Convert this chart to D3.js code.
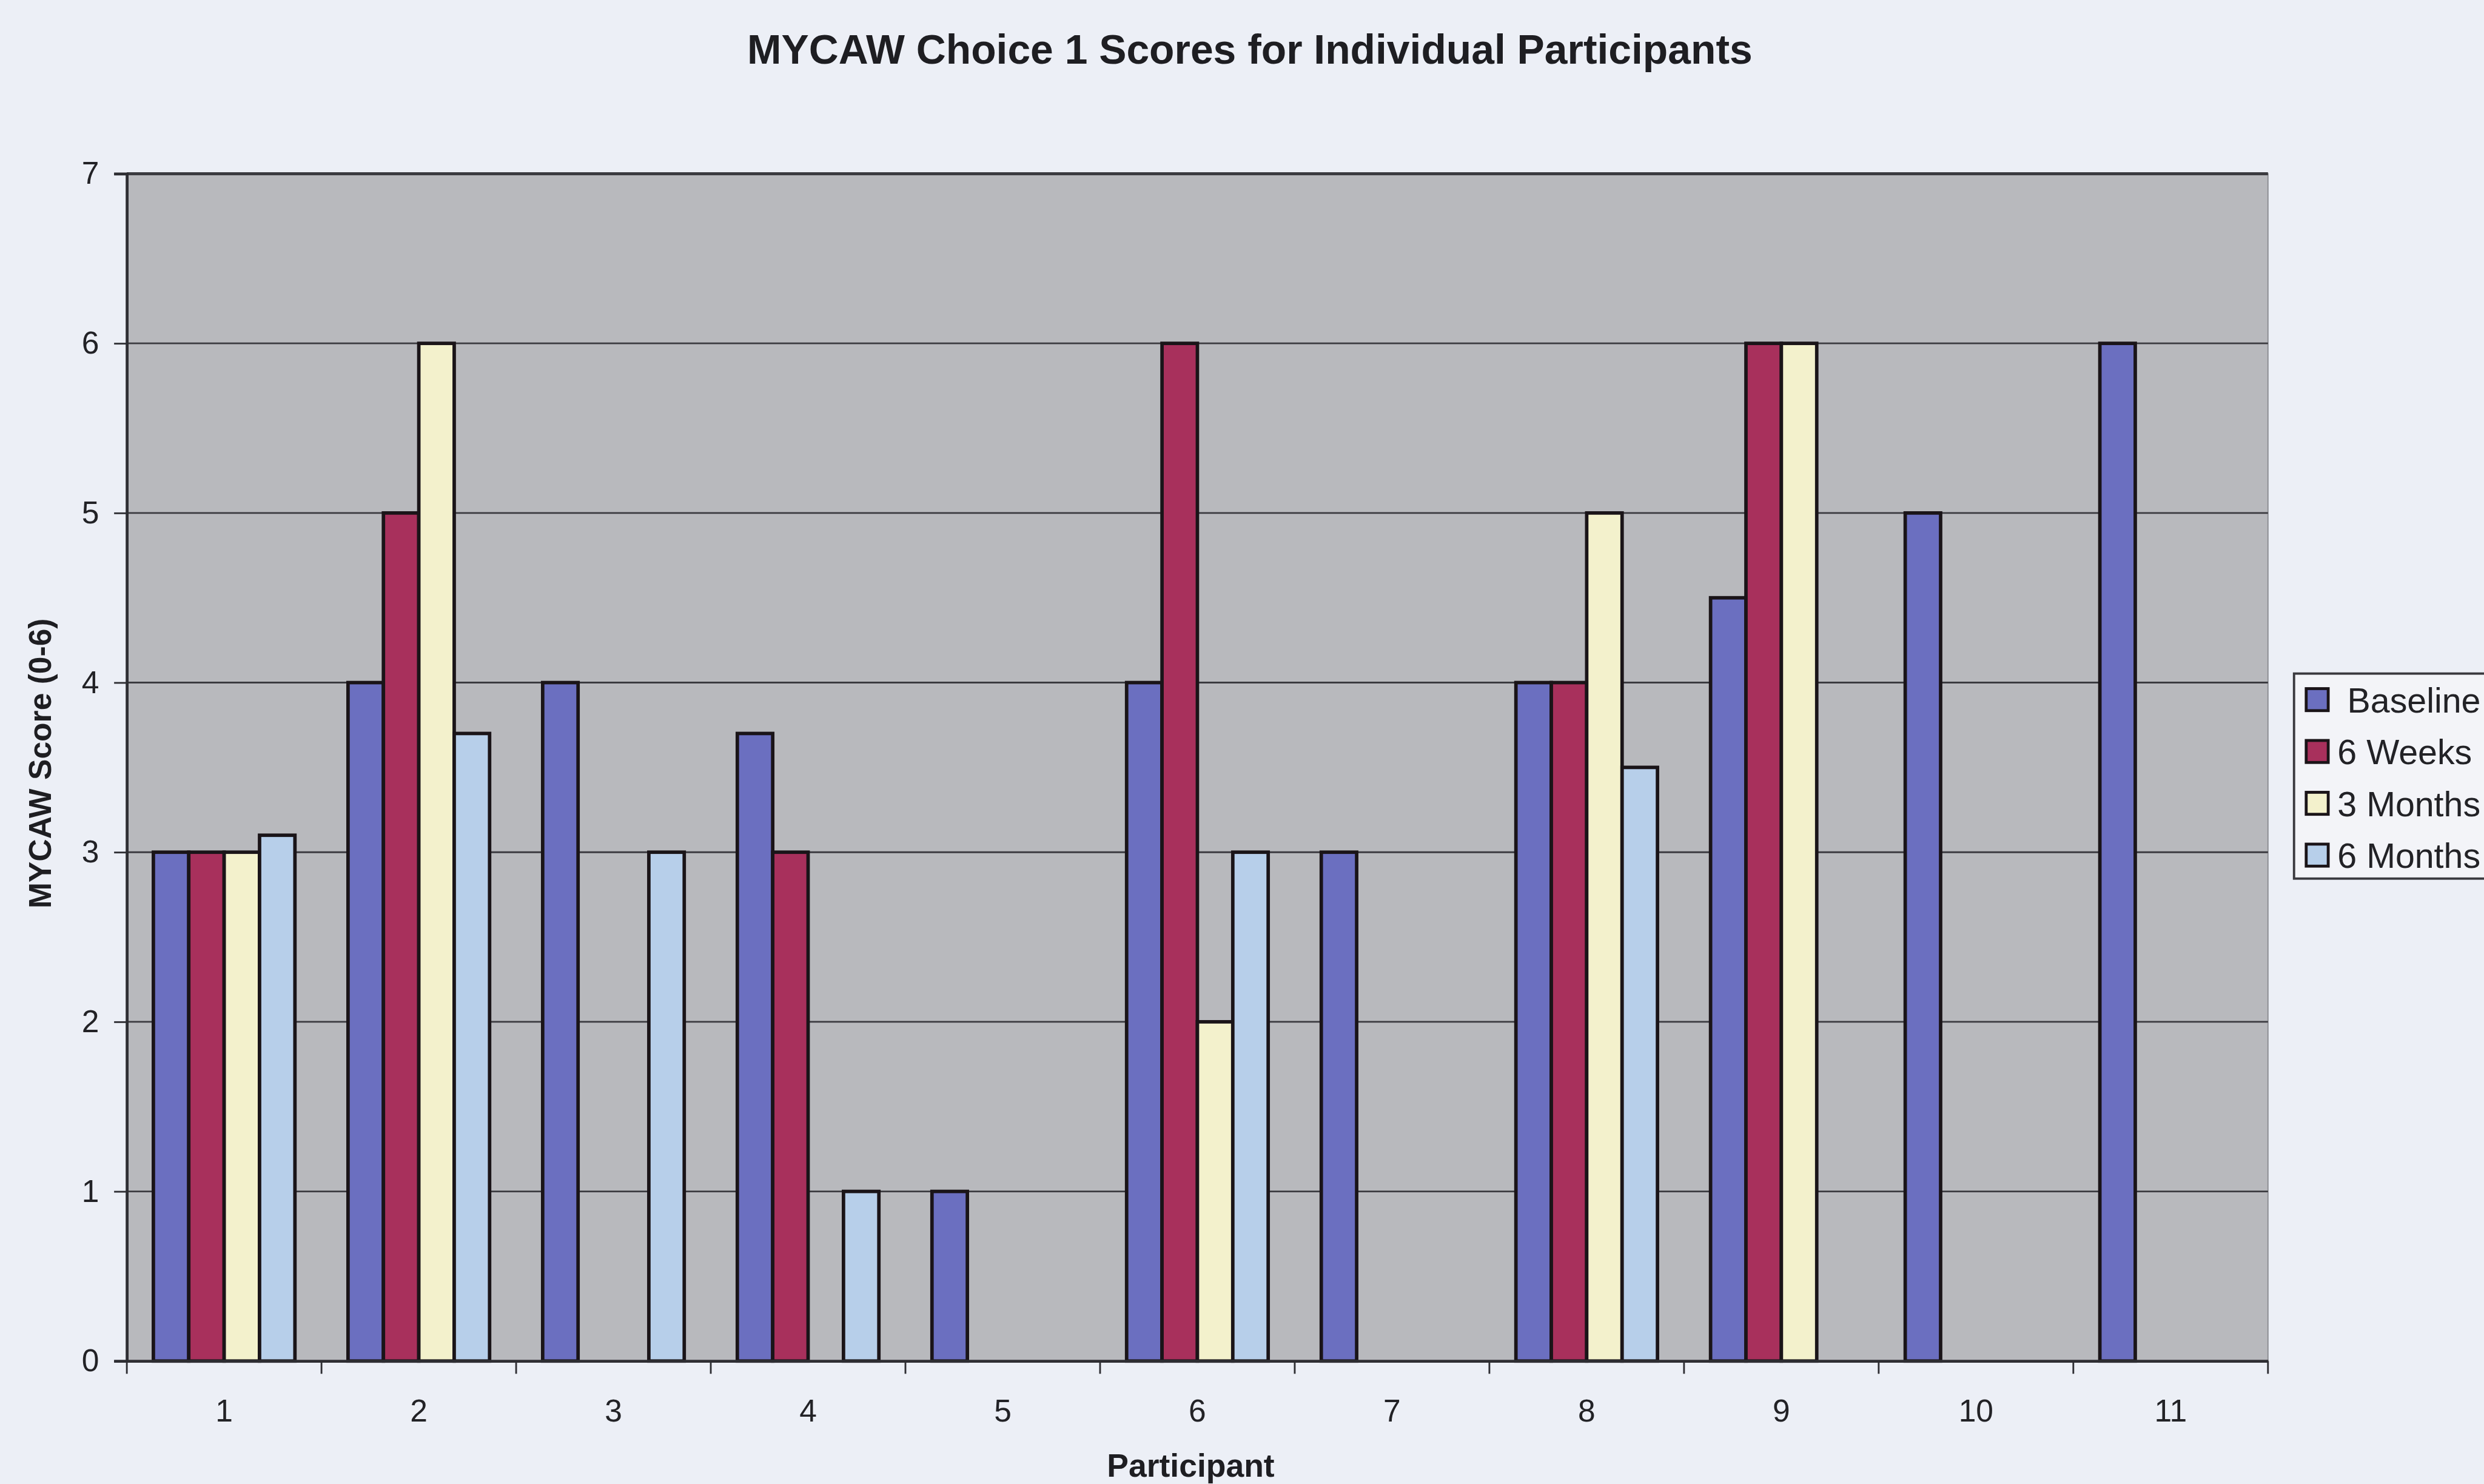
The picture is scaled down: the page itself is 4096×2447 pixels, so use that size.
<!DOCTYPE html>
<html>
<head>
<meta charset="utf-8">
<script src="https://cdn.jsdelivr.net/npm/d3@7"></script>
<style>
  html, body { margin: 0; padding: 0; background: #eceff6; overflow: hidden; }
  svg { display: block; }
</style>
</head>
<body>
<div id="chart"></div>
<script>
// Dades llegides del gràfic
const participants = ['1', '2', '3', '4', '5', '6', '7', '8', '9', '10', '11'];
const seriesNames = ['Baseline', '6 Weeks', '3 Months', '6 Months'];
const baseline    = [3,   4,   4,    3.7,  1,    4, 3,    4,   4.5, 5,    6];
const sixWeeks    = [3,   5,   null, 3,    null, 6, null, 4,   6,   null, null];
const threeMonths = [3,   6,   null, null, null, 2, null, 5,   6,   null, null];
const sixMonths   = [3.1, 3.7, 3,    1,    null, 3, null, 3.5, null, null, null];
const yTicks = [0, 1, 2, 3, 4, 5, 6, 7];
const seriesColors = ['#6b6fc0', '#a8305c', '#f3f1cc', '#b7cfea'];

const seriesValues = [baseline, sixWeeks, threeMonths, sixMonths];
const k = 0.955;

const svg = d3.select('#chart').append('svg')
    .attr('width', 4096)
    .attr('height', 2447);

const g = svg.append('g').attr('transform', `scale(${k})`);

// Escales (coordenades de la imatge de referència)
const plotLeft = 219, plotRight = 3916, plotTop = 300, plotBottom = 2350;

const x = d3.scaleBand()
    .domain(participants)
    .range([plotLeft, plotRight])
    .padding(0);

const xSub = d3.scaleBand()
    .domain(seriesNames)
    .range([0, x.bandwidth()])
    .paddingInner(0)
    .paddingOuter(0.75);

const y = d3.scaleLinear()
    .domain([0, 7])
    .range([plotBottom, plotTop]);

const color = d3.scaleOrdinal().domain(seriesNames).range(seriesColors);

// Fons de l'àrea del gràfic
g.append('rect')
    .attr('x', plotLeft)
    .attr('y', plotTop)
    .attr('width', plotRight - plotLeft)
    .attr('height', plotBottom - plotTop)
    .attr('fill', '#b8b9bd')
    .attr('stroke', '#8c8d92')
    .attr('stroke-width', 2);

// Línies de graella
g.append('g')
    .selectAll('line')
    .data(yTicks.filter(t => t > 0))
    .join('line')
    .attr('x1', plotLeft)
    .attr('x2', plotRight)
    .attr('y1', d => y(d))
    .attr('y2', d => y(d))
    .attr('stroke', '#3b3b40')
    .attr('stroke-width', d => d === 7 ? 5 : 3);

// Barres
const rows = participants.map((p, i) => ({
    participant: p,
    values: seriesNames.map((s, j) => ({ series: s, value: seriesValues[j][i] }))
}));

g.append('g')
    .selectAll('g')
    .data(rows)
    .join('g')
    .attr('transform', d => `translate(${x(d.participant)},0)`)
    .selectAll('rect')
    .data(d => d.values.filter(v => v.value != null))
    .join('rect')
    .attr('x', d => xSub(d.series))
    .attr('y', d => y(d.value))
    .attr('width', xSub.bandwidth())
    .attr('height', d => y(0) - y(d.value))
    .attr('fill', d => color(d.series))
    .attr('stroke', '#1a1418')
    .attr('stroke-width', 6);

// Eix Y
const yAxis = g.append('g')
    .attr('transform', `translate(${plotLeft},0)`)
    .call(d3.axisLeft(y).tickValues(yTicks).tickSize(22).tickPadding(26).tickFormat(d3.format('d')));
yAxis.select('.domain').attr('stroke', '#2e2e33').attr('stroke-width', 5);
yAxis.selectAll('.tick line').attr('stroke', '#2e2e33').attr('stroke-width', 3);
yAxis.selectAll('.tick text')
    .attr('font-family', 'Arial, "Liberation Sans", sans-serif')
    .attr('font-size', 54)
    .attr('fill', '#222226');

// Eix X
const xAxis = g.append('g')
    .attr('transform', `translate(0,${plotBottom})`)
    .call(d3.axisBottom(x).tickSize(0).tickPadding(66));
xAxis.select('.domain').attr('stroke', '#2e2e33').attr('stroke-width', 5);
xAxis.selectAll('.tick text')
    .attr('font-family', 'Arial, "Liberation Sans", sans-serif')
    .attr('font-size', 54)
    .attr('fill', '#222226');

// Marques entre categories
xAxis.append('g')
    .selectAll('line')
    .data(participants.map(p => x(p)).concat([plotRight]))
    .join('line')
    .attr('x1', d => d)
    .attr('x2', d => d)
    .attr('y1', 0)
    .attr('y2', 22)
    .attr('stroke', '#2e2e33')
    .attr('stroke-width', 3);

// Títols
g.append('text')
    .attr('x', 2158)
    .attr('y', 110)
    .attr('text-anchor', 'middle')
    .attr('font-family', 'Arial, "Liberation Sans", sans-serif')
    .attr('font-size', 71)
    .attr('font-weight', 'bold')
    .attr('fill', '#1e1e22')
    .text('MYCAW Choice 1 Scores for Individual Participants');

g.append('text')
    .attr('x', 2056)
    .attr('y', 2550)
    .attr('text-anchor', 'middle')
    .attr('font-family', 'Arial, "Liberation Sans", sans-serif')
    .attr('font-size', 56)
    .attr('font-weight', 'bold')
    .attr('fill', '#1e1e22')
    .text('Participant');

g.append('text')
    .attr('transform', 'translate(88,1318) rotate(-90)')
    .attr('text-anchor', 'middle')
    .attr('font-family', 'Arial, "Liberation Sans", sans-serif')
    .attr('font-size', 54)
    .attr('font-weight', 'bold')
    .attr('fill', '#1e1e22')
    .text('MYCAW Score (0-6)');

// Llegenda
const legend = g.append('g');
legend.append('rect')
    .attr('x', 3961)
    .attr('y', 1163)
    .attr('width', 400)
    .attr('height', 354)
    .attr('fill', '#f3f4f8')
    .attr('stroke', '#3a3a3f')
    .attr('stroke-width', 4);

const legendRows = legend.selectAll('g.item')
    .data(seriesNames)
    .join('g')
    .attr('class', 'item')
    .attr('transform', (d, i) => `translate(0,${1208 + i * 89.5})`);

legendRows.append('rect')
    .attr('x', 3982)
    .attr('y', -19)
    .attr('width', 38)
    .attr('height', 38)
    .attr('fill', d => color(d))
    .attr('stroke', '#1a1418')
    .attr('stroke-width', 5);

legendRows.append('text')
    .attr('x', (d, i) => i === 0 ? 4053 : 4036)
    .attr('y', 22)
    .attr('font-family', 'Arial, "Liberation Sans", sans-serif')
    .attr('font-size', 60)
    .attr('fill', '#222226')
    .text(d => d);
</script>
</body>
</html>
